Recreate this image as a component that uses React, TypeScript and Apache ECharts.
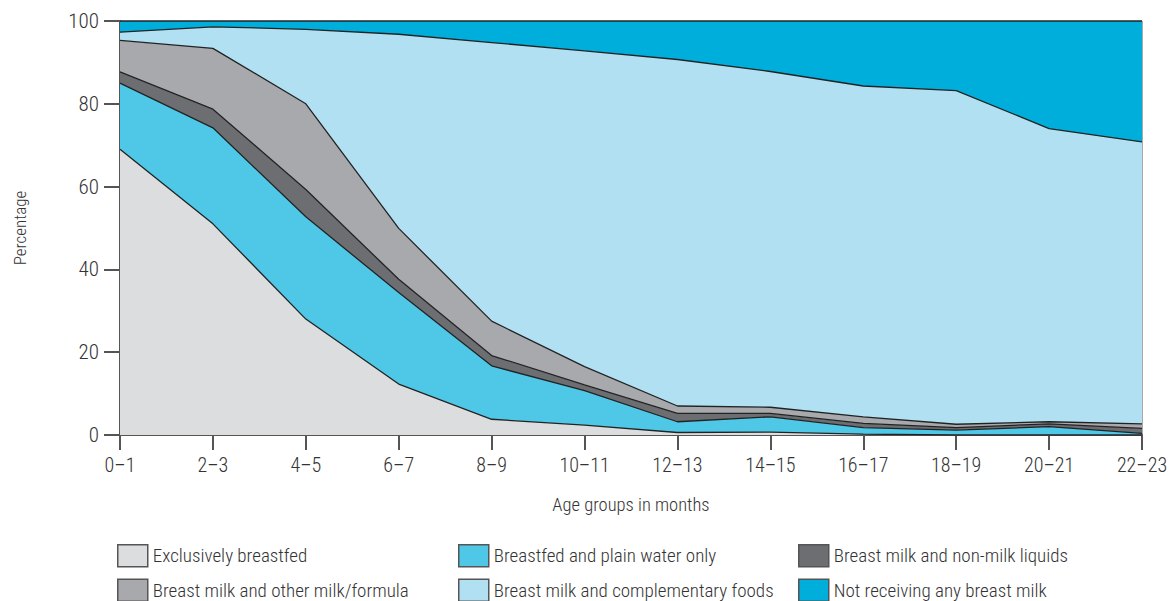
import React, { useEffect, useRef } from "react";
import * as echarts from "echarts";

const ageGroups = ["0–1", "2–3", "4–5", "6–7", "8–9", "10–11", "12–13", "14–15", "16–17", "18–19", "20–21", "22–23"];
const exclusivelyBreastfed = [69, 51, 28, 12.3, 3.8, 2.4, 0.6, 0.7, 0.2, 0, 0, 0];
const plainWaterOnly = [16, 23.2, 24.7, 22.1, 12.9, 8.3, 2.6, 3.7, 1.6, 1.2, 2.0, 0.4];
const nonMilkLiquids = [2.7, 4.5, 6.6, 3.2, 2.5, 1.4, 2.0, 0.8, 1.0, 0.6, 0.7, 1.2];
const otherMilkFormula = [7.6, 14.7, 20.7, 12.3, 8.3, 4.4, 1.8, 1.5, 1.6, 0.8, 0.5, 1.1];
const complementaryFoods = [2.0, 5.2, 18.0, 46.9, 67.3, 76.3, 83.7, 81.1, 79.9, 80.6, 70.8, 68.1];
const notBreastfed = [2.7, 1.4, 2.0, 3.2, 5.2, 7.2, 9.3, 12.2, 15.7, 16.8, 26.0, 29.2];
const yTicks = [0, 20, 40, 60, 80, 100];

const seriesDefs = [
  { name: "Exclusively breastfed", data: exclusivelyBreastfed, color: "#DCDDDF" },
  { name: "Breastfed and plain water only", data: plainWaterOnly, color: "#4EC8E6" },
  { name: "Breast milk and non-milk liquids", data: nonMilkLiquids, color: "#6C6E72" },
  { name: "Breast milk and other milk/formula", data: otherMilkFormula, color: "#A8A9AD" },
  { name: "Breast milk and complementary foods", data: complementaryFoods, color: "#B0E0F2" },
  { name: "Not receiving any breast milk", data: notBreastfed, color: "#00AEDB" },
];

const FONT = "'Roboto Condensed', 'Liberation Sans Narrow', 'Liberation Sans', sans-serif";
const TEXT = "#333333";
const WEIGHT = 300;

export default function App() {
  const ref = useRef<HTMLDivElement>(null);
  useEffect(() => {
    if (!ref.current) return;
    const chart = echarts.init(ref.current, null, { renderer: "svg" });
    const legendCols = [
      [seriesDefs[0], seriesDefs[3]],
      [seriesDefs[1], seriesDefs[4]],
      [seriesDefs[2], seriesDefs[5]],
    ];
    const legendLefts = [117, 458, 798];
    chart.setOption({
      animation: false,
      backgroundColor: "#ffffff",
      textStyle: { fontFamily: FONT },
      grid: { left: 120, right: 31, top: 21, bottom: 166, show: true, borderColor: "#555", borderWidth: 1, backgroundColor: "transparent" },
      legend: legendCols.map((col, i) => ({
        orient: "vertical",
        left: legendLefts[i],
        top: 544,
        width: 330,
        height: 120,
        icon: "rect",
        itemWidth: 30,
        itemHeight: 22,
        itemGap: 11,
        padding: 0,
        selectedMode: false,
        itemStyle: { borderColor: "#555", borderWidth: 1.5 },
        textStyle: { fontFamily: FONT, fontSize: 19, fontWeight: WEIGHT, color: TEXT },
        data: col.map((s) => ({ name: s.name, itemStyle: { color: s.color } })),
      })),
      xAxis: {
        type: "category",
        data: ageGroups,
        boundaryGap: false,
        name: "Age groups in months",
        nameLocation: "middle",
        nameGap: 60,
        nameTextStyle: { fontFamily: FONT, fontSize: 18.5, fontWeight: WEIGHT, color: TEXT },
        axisLine: { show: true, lineStyle: { color: "#555", width: 2 } },
        axisTick: { show: true, length: 15, lineStyle: { color: "#555", width: 2 } },
        axisLabel: { fontFamily: FONT, fontSize: 20, fontWeight: WEIGHT, color: TEXT, margin: 20 },
        splitLine: { show: false },
      },
      yAxis: {
        type: "value",
        min: yTicks[0],
        max: yTicks[yTicks.length - 1],
        interval: 20,
        name: "Percentage",
        nameLocation: "middle",
        nameRotate: 90,
        nameGap: 92,
        nameTextStyle: { fontFamily: FONT, fontSize: 17, fontWeight: WEIGHT, color: TEXT },
        axisLine: { show: true, lineStyle: { color: "#555", width: 2 } },
        axisTick: { show: true, length: 16, lineStyle: { color: "#555", width: 2 } },
        axisLabel: { fontFamily: FONT, fontSize: 21, fontWeight: WEIGHT, color: TEXT, margin: 21 },
        splitLine: { show: false },
      },
      series: seriesDefs.map((s) => ({
        name: s.name,
        type: "line",
        stack: "total",
        data: s.data,
        symbol: "none",
        z: 2,
        itemStyle: { color: s.color },
        lineStyle: { color: "#222", width: 1.3 },
        areaStyle: { color: s.color, opacity: 1 },
      })),
    });
    return () => chart.dispose();
  }, []);
  return <div ref={ref} style={{ position: "absolute", left: 0, top: 0, width: 1173, height: 601 }} />;
}
